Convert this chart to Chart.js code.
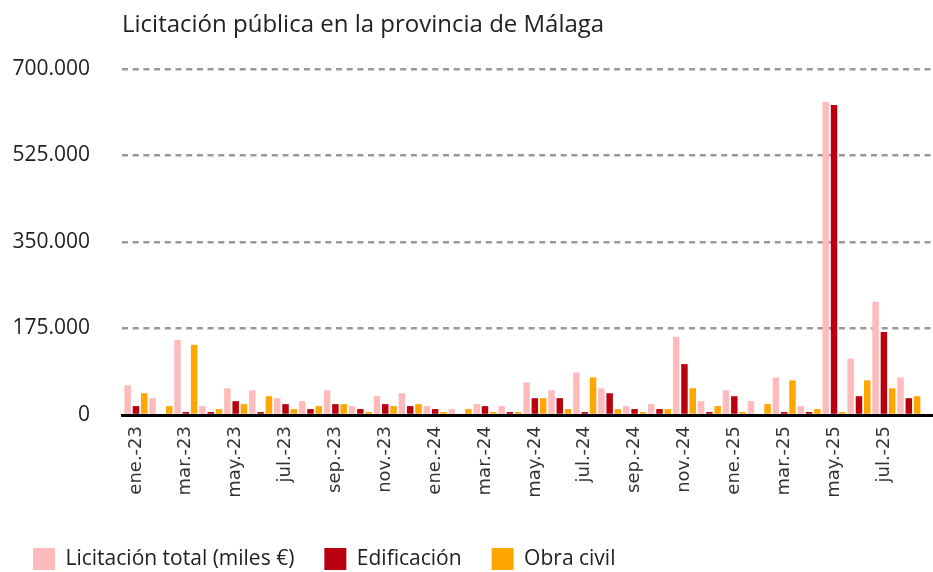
<!DOCTYPE html>
<html>
<head>
<meta charset="utf-8">
<script src="https://cdn.jsdelivr.net/npm/chart.js@4"></script>
<style>
  html, body { margin: 0; padding: 0; background: #fff; }
  #wrap { width: 933px; height: 572px; position: relative; }
</style>
</head>
<body>
<div id="wrap"><canvas id="grafico"></canvas></div>
<script>
// datos (miles de euros)
const meses = ['ene.-23','feb.-23','mar.-23','abr.-23','may.-23','jun.-23','jul.-23','ago.-23','sep.-23','oct.-23','nov.-23','dic.-23',
               'ene.-24','feb.-24','mar.-24','abr.-24','may.-24','jun.-24','jul.-24','ago.-24','sep.-24','oct.-24','nov.-24','dic.-24',
               'ene.-25','feb.-25','mar.-25','abr.-25','may.-25','jun.-25','jul.-25','ago.-25'];
const licitacionTotal = [60000, 34000, 152000, 18000, 54000, 50000, 34000, 28000, 50000, 18000, 38000, 44000,
                         18000, 12000, 22000, 18000, 66000, 50000, 86000, 54000, 18000, 22000, 158000, 28000,
                         50000, 28000, 76000, 18000, 633000, 114000, 229000, 76000];
const edificacion = [18000, 0, 6000, 6000, 28000, 6000, 22000, 12000, 22000, 12000, 22000, 18000,
                     12000, 0, 18000, 6000, 34000, 34000, 6000, 44000, 12000, 12000, 103000, 6000,
                     38000, 0, 6000, 6000, 627000, 38000, 168000, 34000];
const obraCivil = [44000, 18000, 142000, 12000, 22000, 38000, 12000, 18000, 22000, 6000, 18000, 22000,
                   6000, 12000, 6000, 6000, 34000, 12000, 76000, 12000, 6000, 12000, 54000, 18000,
                   6000, 22000, 70000, 12000, 6000, 70000, 54000, 38000];
const ticksY = [0, 175000, 350000, 525000, 700000];
const titulo = 'Licitación pública en la provincia de Málaga';

const fmt = v => String(v).replace(/\B(?=(\d{3})+(?!\d))/g, '.');
const puntos = arr => arr.map((v, i) => ({ x: i, y: v }));

// titulo alineado con el area del grafico
const tituloPlugin = {
  id: 'tituloPlugin',
  afterDraw(chart) {
    const ctx = chart.ctx;
    ctx.save();
    ctx.font = '24px "Open Sans"';
    ctx.fillStyle = '#222';
    ctx.textBaseline = 'alphabetic';
    ctx.fillText(titulo, chart.chartArea.left, 32);
    ctx.restore();
  }
};

new Chart(document.getElementById('grafico'), {
  type: 'bar',
  data: {
    datasets: [
      { label: 'Licitación total (miles €)', data: puntos(licitacionTotal), backgroundColor: 'rgb(255,186,187)', borderWidth: 0 },
      { label: 'Edificación', data: puntos(edificacion), backgroundColor: 'rgb(186,0,14)', borderWidth: 0 },
      { label: 'Obra civil', data: puntos(obraCivil), backgroundColor: 'rgb(255,166,0)', borderWidth: 0 }
    ]
  },
  options: {
    responsive: true,
    maintainAspectRatio: false,
    animation: false,
    categoryPercentage: 1.0,
    barPercentage: 0.78,
    layout: { padding: { left: 3, top: 69, right: 0, bottom: -8 } },
    plugins: {
      legend: {
        position: 'bottom',
        align: 'start',
        labels: { boxWidth: 22, boxHeight: 22, padding: 30, color: '#222', font: { family: 'Open Sans', size: 21 } }
      },
      tooltip: { enabled: false }
    },
    scales: {
      x: {
        type: 'linear',
        min: -0.56,
        max: 31.97,
        offset: false,
        afterFit: s => { s.height = 103; },
        grid: { display: false, drawTicks: false },
        border: { display: true, color: '#000', width: 3, z: 1 },
        ticks: {
          stepSize: 2,
          includeBounds: false,
          autoSkip: false,
          minRotation: 90,
          maxRotation: 90,
          padding: 11,
          color: '#333',
          font: { family: 'DejaVu Sans', size: 18 },
          callback: v => meses[v] ?? ''
        }
      },
      y: {
        min: 0,
        max: 700000,
        afterFit: s => { s.width = 119; },
        afterBuildTicks: s => { s.ticks = ticksY.map(v => ({ value: v })); },
        grid: { color: '#999', lineWidth: 2.5, drawTicks: false },
        border: { display: false, dash: [6, 4.7] },
        ticks: { padding: 32, color: '#222', font: { family: 'Open Sans', size: 21 }, callback: v => fmt(v) }
      }
    }
  },
  plugins: [tituloPlugin]
});
</script>
</body>
</html>
